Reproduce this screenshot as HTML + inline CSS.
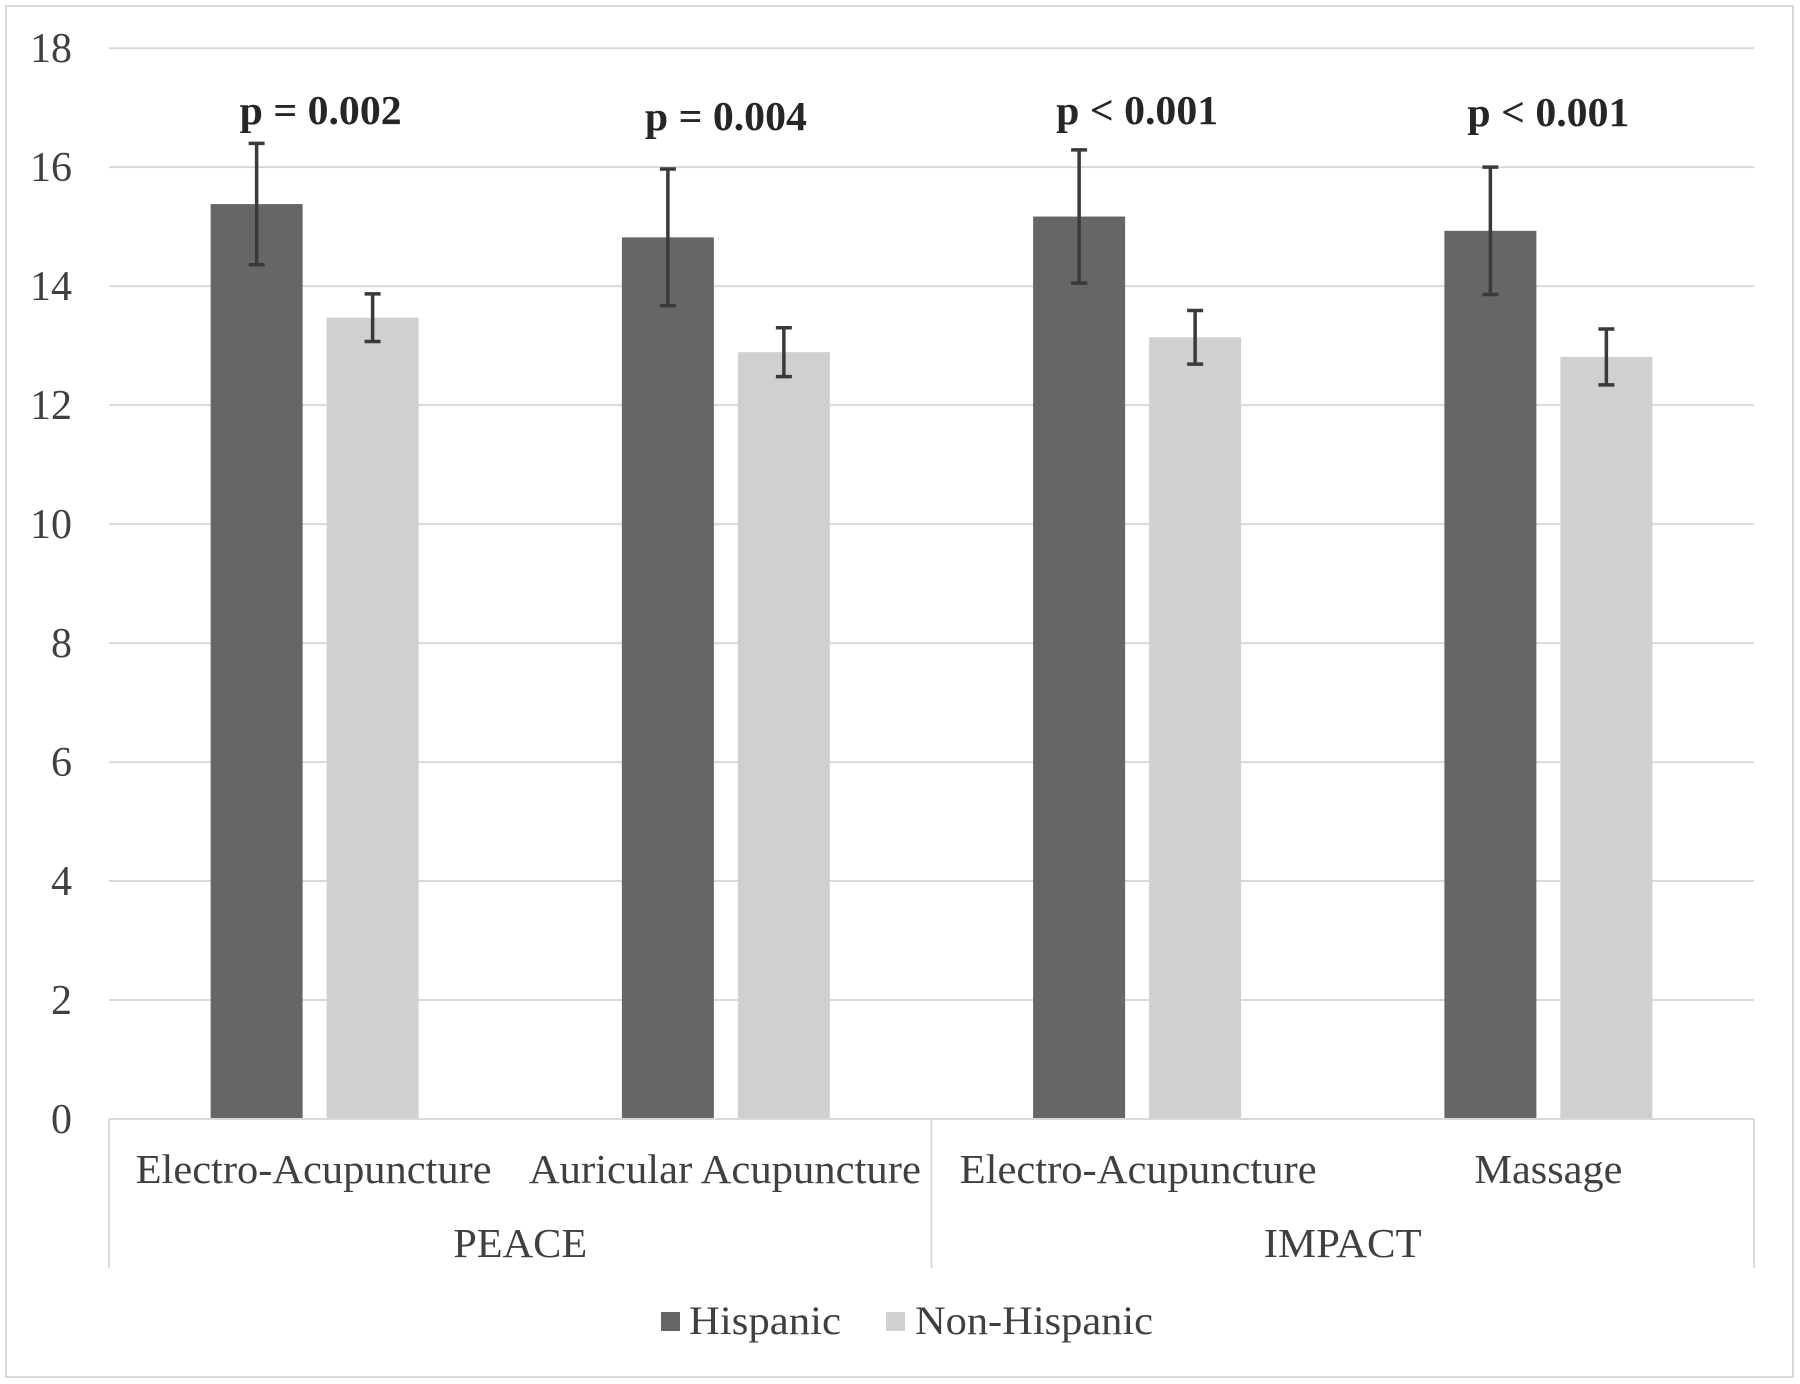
<!DOCTYPE html>
<html><head><meta charset="utf-8"><style>
html,body{margin:0;padding:0;background:#fff;}
svg{display:block;}
text{font-family:"Liberation Serif",serif;}
</style></head><body>
<svg id="chart" width="1800" height="1384" viewBox="0 0 1800 1384" xmlns="http://www.w3.org/2000/svg">
<rect x="6" y="6" width="1787" height="1371" fill="#fff" stroke="#d9d9d9" stroke-width="2"/>
<g id="grid"></g>
<g id="yticks"></g>
<g id="bars"></g>
<g id="xaxis"></g>
<g id="plabels"></g>
<g>
  <g>
    <rect x="661" y="1312" width="19" height="19" fill="#666666"/>
    <text x="689" y="1334" font-size="40" fill="#404040" textLength="152" lengthAdjust="spacingAndGlyphs">Hispanic</text>
  </g>
  <g>
    <rect x="886" y="1312" width="19" height="19" fill="#d0d0d0"/>
    <text x="915" y="1334" font-size="40" fill="#404040" textLength="238" lengthAdjust="spacingAndGlyphs">Non-Hispanic</text>
  </g>
</g>
</svg>
<script>
const categories = ["Electro-Acupuncture","Auricular Acupuncture","Electro-Acupuncture","Massage"];
const groups = ["PEACE","IMPACT"];
const hispanic = [15.38, 14.82, 15.17, 14.93];
const hispanicErr = [1.02, 1.15, 1.12, 1.07];
const nonHispanic = [13.47, 12.89, 13.14, 12.81];
const nonHispanicErr = [0.40, 0.41, 0.45, 0.47];
const pLabels = ["p = 0.002","p = 0.004","p < 0.001","p < 0.001"];
const yTicks = [0,2,4,6,8,10,12,14,16,18];

const NS="http://www.w3.org/2000/svg";
const L=109, R=1754, Y0=1119, YTOP=48.2, YMAX=18;
const y = v => Y0 - (Y0-YTOP)*v/YMAX;
const catW=(R-L)/categories.length;
const cx = i => L + catW*(i+0.5);
const catLabelLen=[356,392,357,148];
const catLabelDx=[-1,-1,1,0];
const groupLabelLen=[134,158];
function mk(tag, attrs, parent){const e=document.createElementNS(NS,tag);for(const k in attrs)e.setAttribute(k,attrs[k]);parent.appendChild(e);return e;}
const grid=document.getElementById('grid'), yt=document.getElementById('yticks');
yTicks.forEach(t=>{
  if(t>0){const g=mk('line',{x1:L,x2:R,y1:y(t),y2:y(t),stroke:'#d9d9d9','stroke-width':2},grid);
  
  }
  const tx=mk('text',{x:72,y:y(t)+14,'text-anchor':'end','font-size':42,fill:'#404040'},yt);
  tx.textContent=t;
  
  
});
const bars=document.getElementById('bars');
const BW=92, OFF=58;
function errBar(xc,v,e,name){
  const g=mk('g',{stroke:'#3a3a3a','stroke-width':3.5},bars);
  
  
  mk('line',{x1:xc,x2:xc,y1:y(v+e),y2:y(v-e)},g);
  mk('line',{x1:xc-8,x2:xc+8,y1:y(v+e),y2:y(v+e)},g);
  mk('line',{x1:xc-8,x2:xc+8,y1:y(v-e),y2:y(v-e)},g);
}
categories.forEach((c,i)=>{
  const x1=cx(i)-OFF, x2=cx(i)+OFF;
  const b1=mk('rect',{x:x1-BW/2,y:y(hispanic[i]),width:BW,height:Y0-y(hispanic[i]),fill:'#666666'},bars);
  
  
  const b2=mk('rect',{x:x2-BW/2,y:y(nonHispanic[i]),width:BW,height:Y0-y(nonHispanic[i]),fill:'#d0d0d0'},bars);
  
  
  errBar(x1,hispanic[i],hispanicErr[i],'error-bar-hispanic-'+(i+1));
  errBar(x2,nonHispanic[i],nonHispanicErr[i],'error-bar-non-hispanic-'+(i+1));
});
const xa=document.getElementById('xaxis');
const ax=mk('line',{x1:L,x2:R,y1:Y0,y2:Y0,stroke:'#d9d9d9','stroke-width':2},xa);


[L,(L+R)/2,R].forEach((xx,k)=>{
  const d=mk('line',{x1:xx,x2:xx,y1:Y0,y2:1268,stroke:'#d9d9d9','stroke-width':2},xa);
  
  
});
categories.forEach((c,i)=>{
  const t=mk('text',{x:cx(i)+catLabelDx[i],y:1183,'text-anchor':'middle','font-size':41,fill:'#404040',textLength:catLabelLen[i],lengthAdjust:'spacingAndGlyphs'},xa);
  t.textContent=c;
  
  
});
groups.forEach((g,i)=>{
  const t=mk('text',{x:L+(R-L)/4*(2*i+1),y:1257,'text-anchor':'middle','font-size':41,fill:'#404040',textLength:groupLabelLen[i],lengthAdjust:'spacingAndGlyphs'},xa);
  t.textContent=g;
  
  
});
const pl=document.getElementById('plabels');
const pY=[124,130,124,126];
pLabels.forEach((p,i)=>{
  const t=mk('text',{x:cx(i)+(i==0?6:0),y:pY[i],'text-anchor':'middle','font-size':41,'font-weight':'bold',fill:'#262626',textLength:162,lengthAdjust:'spacingAndGlyphs'},pl);
  t.textContent=p;
  
  
});
</script>
</body></html>
